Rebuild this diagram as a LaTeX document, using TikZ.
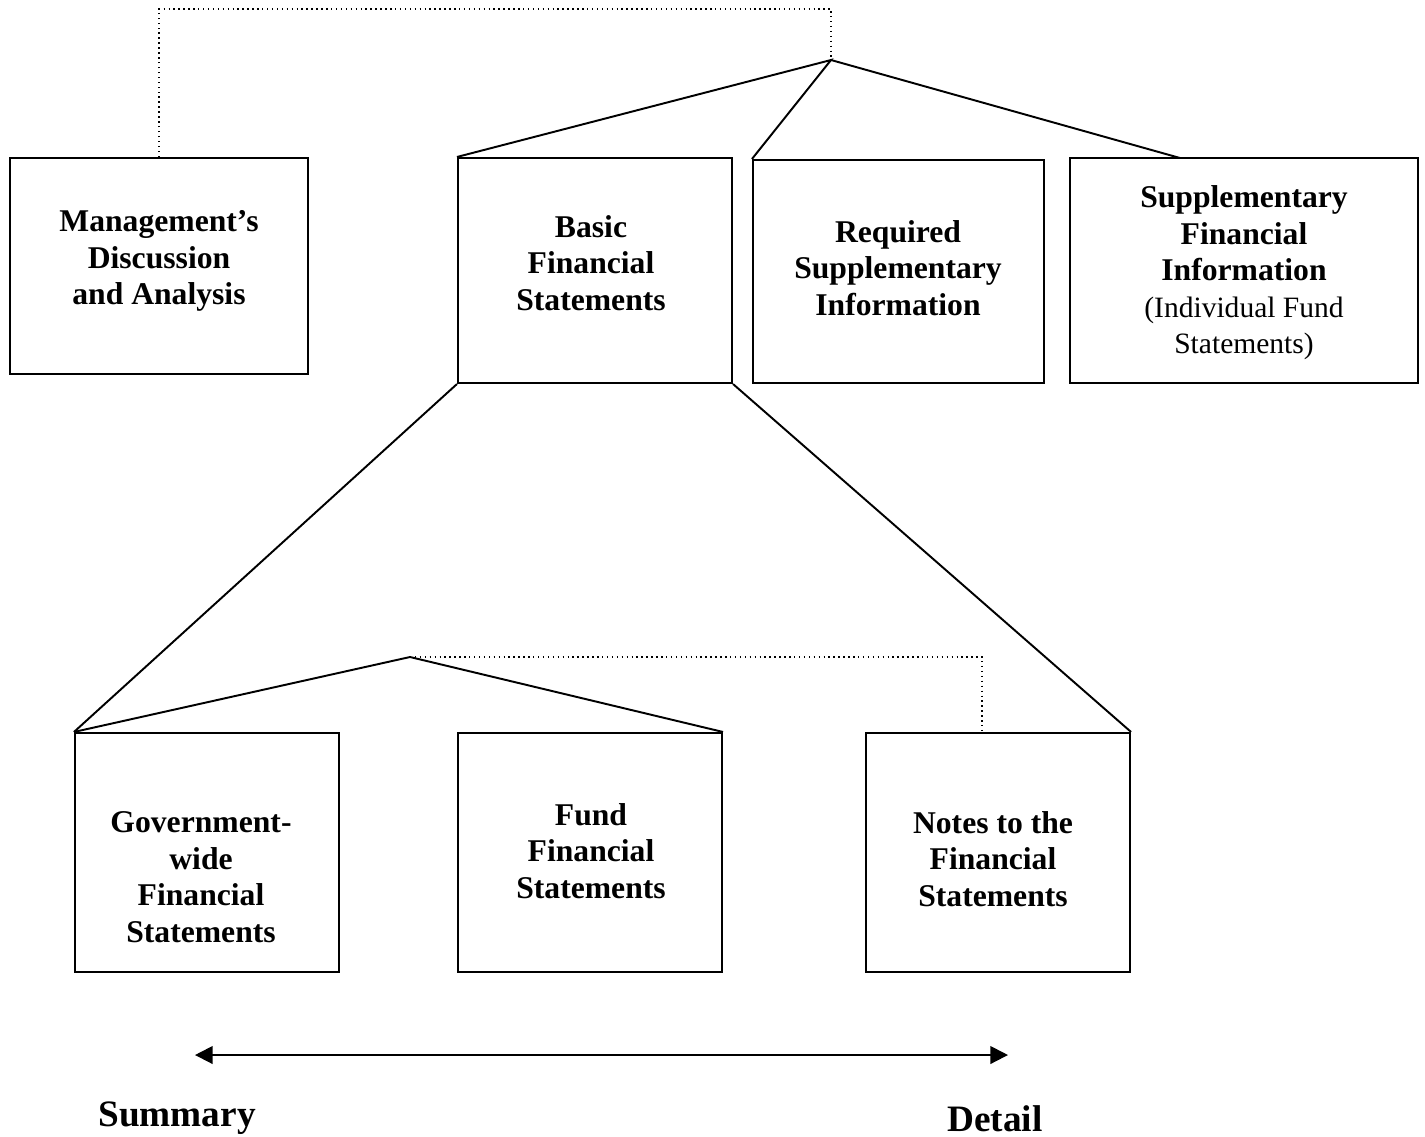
\documentclass[tikz,border=0pt]{standalone}
\usepackage{fontspec}
\setmainfont{Liberation Serif}
\usepackage{tikz}
\usetikzlibrary{arrows.meta, calc}
\tikzset{
  part/.style={
    draw,
    line width=0.55pt,
    inner sep=0pt},
  label text/.style={
    align=center,
    font=\fontsize{9}{10.4}\selectfont\bfseries},
  link/.style={
    line width=0.55pt},
  dots/.style={
    densely dotted,
    line width=0.4pt}
  }

\begin{document}
\begin{tikzpicture}[x=0.01cm, y=-0.01cm]
      \useasboundingbox (0,0) rectangle (1425,1136);
      % top row
      \node [part, minimum width=2.98cm, minimum height=2.16cm] (mda) at (159,266) {};
      \node [part, minimum width=2.74cm, minimum height=2.25cm] (basic) at (595,270.5) {};
      \node [part, minimum width=2.91cm, minimum height=2.23cm] (rsi) at (898.5,271.5) {};
      \node [part, minimum width=3.48cm, minimum height=2.25cm] (sfi) at (1244,270.5) {};
      \node [label text] (mdatext) at (159,261) {Management's\\Discussion\\and Analysis};
      \node [label text] (basictext) at (591,263) {Basic\\Financial\\Statements};
      \node [label text] (rsitext) at (898,268) {Required\\Supplementary\\Information};
      \node [label text] (sfitext) at (1244,273) {Supplementary\\Financial\\Information\\
        {\mdseries\fontsize{8.4}{10}\selectfont (Individual Fund}\\
        {\mdseries\fontsize{8.4}{10}\selectfont Statements)}};
      % bottom row
      \node [part, minimum width=2.64cm, minimum height=2.39cm] (gov) at (207,852.5) {};
      \node [part, minimum width=2.64cm, minimum height=2.39cm] (fund) at (590,852.5) {};
      \node [part, minimum width=2.64cm, minimum height=2.39cm] (notes) at (998,852.5) {};
      \node [label text] (govtext) at (201,877) {Government-\\wide\\Financial\\Statements};
      \node [label text] (fundtext) at (591,851) {Fund\\Financial\\Statements};
      \node [label text] (notestext) at (993,859) {Notes to the\\Financial\\Statements};
      % branch points
      \coordinate (top) at (831,60);
      \coordinate (low) at (410,657);
      \coordinate (sfijoin) at (1180,158);
      \coordinate (notesjoin) at (982,733);
      \draw [link] (basic.north west) -- (top) -- (rsi.north west);
      \draw [link] (top) -- (sfijoin);
      \draw [link] (basic.south west) -- (gov.north west);
      \draw [link] (basic.south east) -- (notes.north east);
      \draw [link] (gov.north west) -- (low) -- (fund.north east);
      \draw [dots] (mda.north) -- ++(0,-148) -| (top);
      \draw [dots] (low) -| (notesjoin);
      % scale
      \node [font=\fontsize{10.6}{12}\selectfont\bfseries] (summary) at (177,1118) {Summary};
      \node [font=\fontsize{10.6}{12}\selectfont\bfseries] (detail) at (995,1119) {Detail};
      \coordinate (leftend) at (195,1055);
      \coordinate (rightend) at (1008,1055);
      \draw [link, {Triangle[length=5pt, width=5pt]}-{Triangle[length=5pt, width=5pt]}] (leftend) -- (rightend);
\end{tikzpicture}
\end{document}
